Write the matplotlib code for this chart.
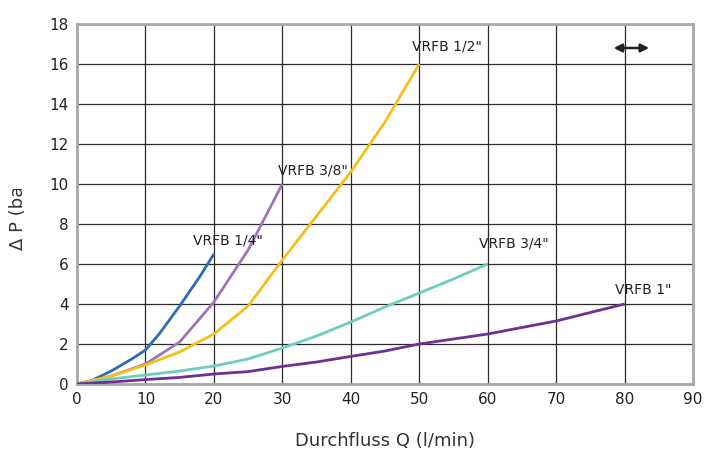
import matplotlib
matplotlib.use("Agg")
from matplotlib import pyplot as plt
from matplotlib.transforms import Bbox

# VRFB 1/4"
q_14 = [0, 2, 5, 8, 10, 12, 15, 18, 20]
p_14 = [0, 0.15, 0.65, 1.25, 1.7, 2.5, 3.9, 5.4, 6.5]
# VRFB 3/8"
q_38 = [0, 5, 10, 15, 20, 25, 30]
p_38 = [0, 0.4, 1.0, 2.1, 4.1, 6.7, 10.0]
# VRFB 1/2"
q_12 = [0, 5, 10, 15, 20, 25, 30, 35, 40, 45, 50]
p_12 = [0, 0.4, 0.95, 1.6, 2.5, 3.9, 6.2, 8.4, 10.6, 13.1, 16.0]
# VRFB 3/4"
q_34 = [0, 5, 10, 15, 20, 25, 30, 35, 40, 45, 50, 55, 60]
p_34 = [0, 0.25, 0.45, 0.65, 0.9, 1.25, 1.8, 2.4, 3.1, 3.85, 4.55, 5.25, 6.0]
# VRFB 1"
q_1 = [0, 5, 10, 15, 20, 25, 30, 35, 40, 45, 50, 60, 70, 80]
p_1 = [0, 0.1, 0.22, 0.33, 0.5, 0.62, 0.88, 1.1, 1.38, 1.65, 2.0, 2.5, 3.15, 4.0]

series = [
    (q_14, p_14, "#2b6cb6", 'VRFB 1/4"', 22.1, 7.2),
    (q_38, p_38, "#9c74ba", 'VRFB 3/8"', 34.4, 10.7),
    (q_12, p_12, "#f5bf1a", 'VRFB 1/2"', 54.0, 16.85),
    (q_34, p_34, "#6dcdc0", 'VRFB 3/4"', 63.9, 7.05),
    (q_1, p_1, "#6f2f94", 'VRFB 1"', 82.7, 4.7),
]

x_ticks = list(range(0, 91, 10))
y_ticks = list(range(0, 19, 2))

plt.rcParams['font.family'] = ['DejaVu Sans']

fig = plt.figure(figsize=(7.09, 4.57), dpi=100)
ax = fig.add_axes([0.1086, 0.1597, 0.8688, 0.7878])

for q, p, c, name, lx, ly in series:
    ax.plot(q, p, color=c, lw=2.0, solid_capstyle='butt', zorder=3)
    ax.text(lx, ly, name, ha='center', va='center', fontsize=10, color='#222222', zorder=4)

# double arrow top right
ax.annotate('', xy=(78.0, 16.8), xytext=(84.0, 16.8),
            arrowprops=dict(arrowstyle='<|-|>', color='#222222', lw=1.8, mutation_scale=12))

ax.set_xlim(0, 90)
ax.set_ylim(0, 18)
ax.set_xticks(x_ticks)
ax.set_yticks(y_ticks)
ax.grid(True, color='#2a2a2a', lw=0.9)
ax.set_axisbelow(True)
ax.tick_params(length=0, pad=6, labelsize=11, colors='#222222')
for s in ax.spines.values():
    s.set_color('#a8a8a8')
    s.set_linewidth(2)

ax.set_xlabel('Durchfluss Q (l/min)', fontsize=13, color='#333333', labelpad=18)

ylab = fig.text(0.025, 0.453, 'Δ P (bar)', rotation=90, ha='center', va='bottom',
                fontsize=13, color='#333333')
# label is cut off at the top in the reference
ylab.set_clip_box(Bbox.from_extents(0, 0, 709, 457 - 189))
ylab.set_clip_on(True)

plt.savefig("out.png", dpi=100)
